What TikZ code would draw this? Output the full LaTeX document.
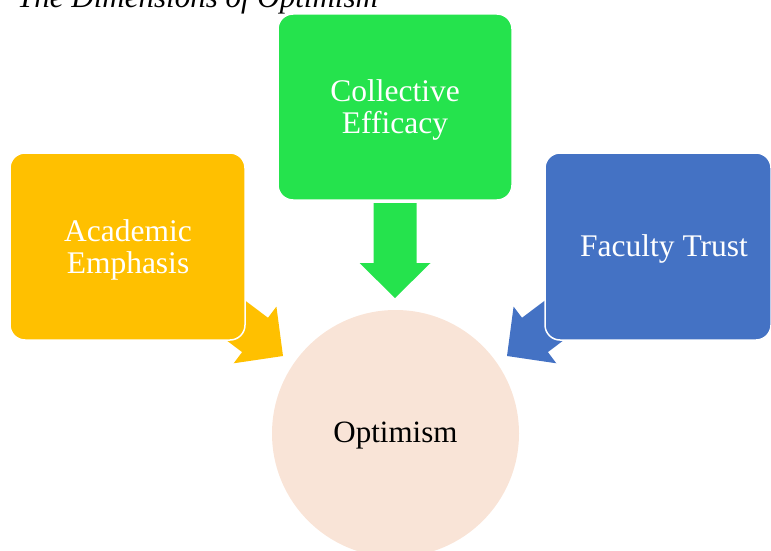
\documentclass[tikz,border=0pt]{standalone}
\usepackage{fontspec}
\setmainfont{Liberation Serif}
\definecolor{cOrange}{HTML}{FFC000}
\definecolor{cGreen}{HTML}{25E34D}
\definecolor{cBlue}{HTML}{4472C4}
\definecolor{cPeach}{HTML}{F9E4D7}
\begin{document}
\begin{tikzpicture}[x=1pt,y=-1pt,
  box/.style={rectangle, rounded corners=15pt, draw=white, line width=1.5pt, inner sep=0pt, outer sep=0pt},
  boxtext/.style={text=white, align=center, font=\fontsize{31.5}{32}\selectfont, inner sep=0pt},
  blockarrow/.style={line width=0pt}]
\useasboundingbox (0,0) rectangle (771,551);
% title
\node[anchor=base west, inner sep=0pt, font=\fontsize{31}{32}\selectfont\itshape] (title) at (17,8) {The Dimensions of Optimism};
% block arrows (tip at origin, pointing along +x)
\def\arrowshape{(0,0) -- (-35,35.5) -- (-35,21.5) -- (-95,21.5) -- (-95,-21.5) -- (-35,-21.5) -- (-35,-35.5) -- cycle}
\begin{scope}[shift={(395,298)}, rotate=-90]
  \fill[cGreen] \arrowshape;
\end{scope}
\begin{scope}[shift={(283,356)}, rotate=-37]
  \fill[cOrange] \arrowshape;
\end{scope}
\begin{scope}[shift={(507,356)}, rotate=-143]
  \fill[cBlue] \arrowshape;
\end{scope}
% boxes
\node[box, fill=cOrange, minimum width=235pt, minimum height=187pt] (acad) at (127.5,246.5) {};
\node[box, fill=cGreen, minimum width=234pt, minimum height=186pt] (coll) at (395,107) {};
\node[box, fill=cBlue, minimum width=226pt, minimum height=187pt] (fac) at (658,246.5) {};
\node[boxtext] (acadt) at (128,249.5) {Academic\\Emphasis};
\node[boxtext] (collt) at (395,110) {Collective\\Efficacy};
\node[boxtext] (fact) at (664,249) {Faculty Trust};
% circle
\node[circle, fill=cPeach, minimum size=247pt, inner sep=0pt] (opt) at (395.5,433.5) {};
\node[inner sep=0pt, font=\fontsize{31}{32}\selectfont] (optt) at (395.5,435.5) {Optimism};
\end{tikzpicture}
\end{document}
